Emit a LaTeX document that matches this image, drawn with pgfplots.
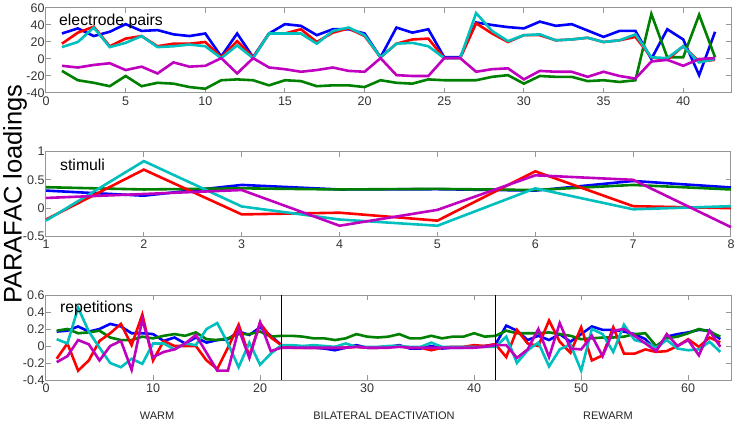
\documentclass[border=0pt]{standalone}
\usepackage{pgfplots}
\usepackage{pgfplotstable}
\usepackage{fontspec}
\setmainfont{Liberation Sans}
\pgfplotsset{compat=1.18}
\definecolor{mb}{RGB}{0,0,255}
\definecolor{mg}{RGB}{0,128,0}
\definecolor{mr}{RGB}{255,0,0}
\definecolor{mc}{RGB}{0,191,191}
\definecolor{mm}{RGB}{191,0,191}
\definecolor{ax}{RGB}{150,150,150}
\pgfplotstableread{
x b g r c m
1 30 -14 18 14 -8
2 36 -25 31 20 -10
3 27 -28 38 37 -7
4 32 -32 15 14 -5
5 41 -20 24 19 -13
6 33 -32 27 27 -9
7 34 -28 15 14 -17
8 29 -29 18 15 -4
9 27 -33 18 17 -9
10 30 -35 20 15 -8
11 3 -25 2 1 1
12 30 -24 21 16 -17
13 2 -25 2 1 1
14 30 -31 30 30 -10
15 41 -25 30 30 -12
16 39 -26 35 30 -15
17 28 -32 20 18 -13
18 35 -31 31 33 -10
19 35 -31 36 37 -14
20 30 -33 27 28 -15
21 2 -25 2 2 1
22 37 -28 18 18 -19
23 31 -29 23 19 -20
24 35 -24 24 15 -20
25 2 -25 1 1 1
26 2 -25 1 1 1
27 43 -25 42 54 -15
28 40 -21 30 33 -12
29 37.5 -19 20 21 -11
30 36 -29 28 28 -24
31 44 -20 28 29 -14
32 39 -21 22 22 -15
33 41 -21 23 23 -15
34 33.5 -26 25 25 -21
35 26 -25 20 20 -15
36 33 -27 22 22 -20
37 33 -25 26 29 -23
38 0 53 2 2 -3
39 35 2 -1 1 -1
40 23 2 15 15 -8
41 -19 52 -3 -4 0
42 32 2 -1 0 1
}\tabpairs
\pgfplotstableread{
x b g r c m
1 .31 .37 -.20 -.22 .18
2 .22 .33 .68 .83 .25
3 .41 .35 -.11 .03 .32
4 .33 .33 -.08 -.20 -.31
5 .335 .34 -.22 -.31 -.03
6 .31 .32 .65 .35 .58
7 .48 .41 .035 -.02 .50
8 .365 .33 .0 .035 -.335
}\tabstim
\pgfplotstableread{
x b g r c m
1 .17 .18 -.15 .08 -.19
2 .18 .20 .03 .03 -.12
3 .23 .15 -.29 .45 .07
4 .17 .16 -.17 .17 .02
5 .20 .18 .06 -.02 -.17
6 .26 .10 .15 -.20 0
7 .23 .07 .26 -.25 .06
8 .15 .07 .01 -.15 -.28
9 .15 .11 .37 -.21 .31
10 .14 .09 -.17 .03 -.13
11 .06 .12 .06 .03 -.07
12 .10 .14 0 -.04 -.04
13 .03 .12 0 .03 .03
14 .10 .16 0 .01 .13
15 .04 .08 -.17 .20 -.08
16 .07 .07 -.27 .27 -.29
17 .08 .09 -.02 .03 -.29
18 .17 .14 .25 -.25 .20
19 .13 .14 -.12 .04 -.14
20 .22 .17 .27 -.22 .28
21 .12 .11 .10 -.09 -.06
22 .01 .12 .01 .01 -.02
23 -.01 .12 -.02 .01 -.02
24 -.02 .11 -.02 0 -.02
25 -.02 .09 -.02 .01 -.02
26 -.03 .09 -.02 0 -.02
27 -.05 .07 -.02 -.01 -.02
28 -.02 .09 -.02 .03 -.02
29 .01 .14 -.01 -.01 -.01
30 -.02 .11 -.02 -.01 -.02
31 -.02 .10 -.02 -.01 -.02
32 -.01 .11 -.01 0 -.02
33 .01 .14 0 0 -.01
34 -.03 .09 -.02 -.01 -.02
35 -.03 .09 -.02 -.01 -.02
36 0 .12 -.05 .04 -.02
37 -.03 .09 -.02 -.01 -.02
38 -.02 .11 -.01 -.01 -.02
39 -.02 .11 -.01 -.01 -.02
40 -.01 .15 .01 -.01 -.02
41 0 .11 0 -.01 -.01
42 .02 .12 .02 -.01 .01
43 .24 .18 -.13 .11 .01
44 .18 .15 .19 -.20 -.14
45 .07 .15 .03 -.05 -.04
46 .12 .15 0 .04 .20
47 .07 .16 .30 -.24 -.13
48 .14 .14 .05 -.04 .27
49 .05 .12 -.08 .02 -.03
50 .14 .08 .22 -.29 -.04
51 .23 .09 -.17 .20 .12
52 .19 .10 -.11 .14 -.12
53 .19 .10 .22 -.07 .18
54 .17 .11 -.09 .25 .20
55 .14 .14 -.09 .07 .12
56 .08 .15 -.04 .04 .03
57 -.05 0 -.07 -.02 -.06
58 .11 .09 -.06 .07 .14
59 .14 .11 0 -.03 0
60 .16 .15 .08 -.05 .07
61 .19 .20 -.01 -.04 -.11
62 .18 .17 .10 .05 .18
63 .08 .11 .04 -.07 -.01
}\tabrep
\pgfplotsset{
  panel/.style={
    scale only axis, width=685pt, height=85pt, anchor=south west,
    axis line style={ax, line width=1pt},
    every tick/.style={ax, line width=1pt},
    tick align=inside, tick pos=both,
    major tick length=5pt,
    tick label style={font=\fontsize{12.5}{13}\selectfont, text=black!80},
    /pgf/number format/assume math mode=true,
    /pgf/number format/fixed,
    xlabel=\empty, ylabel=\empty,
    xticklabel style={yshift=0pt},
    yticklabel style={xshift=2pt},
    every axis plot/.append style={line width=2.6pt, line join=miter, no markers},
    clip=false,
  }
}
\newcommand{\five}[1]{%
  \addplot[mb] table[x=x,y=b] {#1};
  \addplot[mg] table[x=x,y=g] {#1};
  \addplot[mr] table[x=x,y=r] {#1};
  \addplot[mc] table[x=x,y=c] {#1};
  \addplot[mm] table[x=x,y=m] {#1};
}
\begin{document}
\begin{tikzpicture}[x=1pt,y=1pt]
\useasboundingbox (0,0) rectangle (737,421);
\begin{axis}[panel, at={(46pt,328pt)}, xmin=0, xmax=43, ymin=-40, ymax=60,
  xtick={0,5,...,40}, ytick={-40,-20,0,20,40,60}]
\five{\tabpairs}
\end{axis}
\begin{axis}[panel, at={(46pt,184.5pt)}, xmin=1, xmax=8, ymin=-0.5, ymax=1,
  xtick={1,...,8}, ytick={-0.5,0,0.5,1}]
\five{\tabstim}
\end{axis}
\begin{axis}[panel, at={(46pt,41pt)}, xmin=0, xmax=64, ymin=-0.4, ymax=0.6,
  xtick={0,10,...,60}, ytick={-0.4,-0.2,0,0.2,0.4,0.6}]
\five{\tabrep}
\addplot[black, line width=1.7pt] coordinates {(22,-0.4) (22,0.6)};
\addplot[black, line width=1.7pt] coordinates {(42,-0.4) (42,0.6)};
\end{axis}
\node[anchor=west, inner sep=0pt, font=\fontsize{15.8}{16}\selectfont] at (59,400) {electrode pairs};
\node[anchor=west, inner sep=0pt, font=\fontsize{15.8}{16}\selectfont] at (60,256) {stimuli};
\node[anchor=west, inner sep=0pt, font=\fontsize{15.8}{16}\selectfont] at (60,113) {repetitions};
\node[rotate=90, inner sep=0pt, font=\fontsize{25.5}{26}\selectfont] at (15,227) {PARAFAC loadings};
\node[inner sep=0pt, font=\fontsize{11}{12}\selectfont, text=black!85] at (157,5.5) {WARM};
\node[inner sep=0pt, font=\fontsize{11}{12}\selectfont, text=black!85] at (384,5.5) {BILATERAL DEACTIVATION};
\node[inner sep=0pt, font=\fontsize{11}{12}\selectfont, text=black!85] at (608,5.5) {REWARM};
\end{tikzpicture}
\end{document}
